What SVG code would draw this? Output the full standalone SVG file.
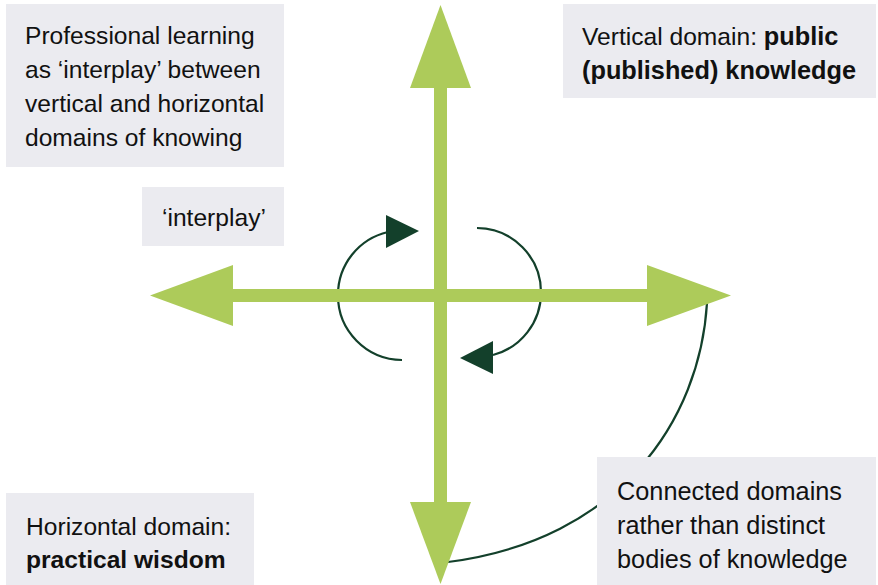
<svg xmlns="http://www.w3.org/2000/svg" width="878" height="585" viewBox="0 0 878 585">
<style>
.box{fill:#ebebf0}
.t{font-family:"Liberation Sans",Arial,sans-serif;font-size:24.6px;fill:#111}
.b{font-weight:bold;font-size:25.3px}
.b2{font-weight:bold;font-size:24.6px}
.c{font-size:25.3px}
.g{fill:#adcb5a}
.ln{fill:none;stroke:#13402b;stroke-width:2.2}
.ah{fill:#13402b}
</style>
<rect width="878" height="585" fill="#fff"/>
<g id="connectors">
  <path class="ln" d="M707,303 C700,420 620,540 448,562"/>
  <path class="ln" d="M402,360 A64.5,64.5 0 0 1 338,295 A64.5,64.5 0 0 1 388,232"/>
  <polygon class="ah" points="386,215 386,248 419,231"/>
  <path class="ln" d="M477,228 A64.4,64.4 0 0 1 541,293 A64.4,64.4 0 0 1 493,355"/>
  <polygon class="ah" points="493,341 493,374 460,358"/>
</g>
<g id="axes">
  <rect class="g" x="434" y="87" width="13" height="416"/>
  <rect class="g" x="232" y="289" width="416" height="13"/>
  <polygon class="g" points="440.5,5 471,88 410,88"/>
  <polygon class="g" points="410,502 471,502 440.5,584"/>
  <polygon class="g" points="150,295.5 233,265 233,326"/>
  <polygon class="g" points="647,265 647,326 731,295.5"/>
</g>
<g id="n-title">
  <rect class="box" x="6" y="4" width="278" height="163"/>
  <text class="t" x="25" y="44">Professional learning</text>
  <text class="t" x="25" y="78">as ‘interplay’ between</text>
  <text class="t" x="25" y="112">vertical and horizontal</text>
  <text class="t" x="25" y="146">domains of knowing</text>
</g>
<g id="n-interplay">
  <rect class="box" x="142" y="187" width="142" height="59"/>
  <text class="t" x="162" y="226">‘interplay’</text>
</g>
<g id="n-vertical">
  <rect class="box" x="563" y="4" width="313" height="94"/>
  <text class="t" x="582" y="45">Vertical domain: <tspan class="b">public</tspan></text>
  <text class="t b" x="582" y="79">(published) knowledge</text>
</g>
<g id="n-horizontal">
  <rect class="box" x="6" y="493" width="248" height="92"/>
  <text class="t" x="26" y="535">Horizontal domain:</text>
  <text class="t b2" x="26" y="568">practical wisdom</text>
</g>
<g id="n-connected">
  <rect class="box" x="597" y="457" width="279" height="128"/>
  <text class="t c" x="617" y="500">Connected domains</text>
  <text class="t c" x="617" y="534">rather than distinct</text>
  <text class="t c" x="617" y="568">bodies of knowledge</text>
</g>
</svg>
